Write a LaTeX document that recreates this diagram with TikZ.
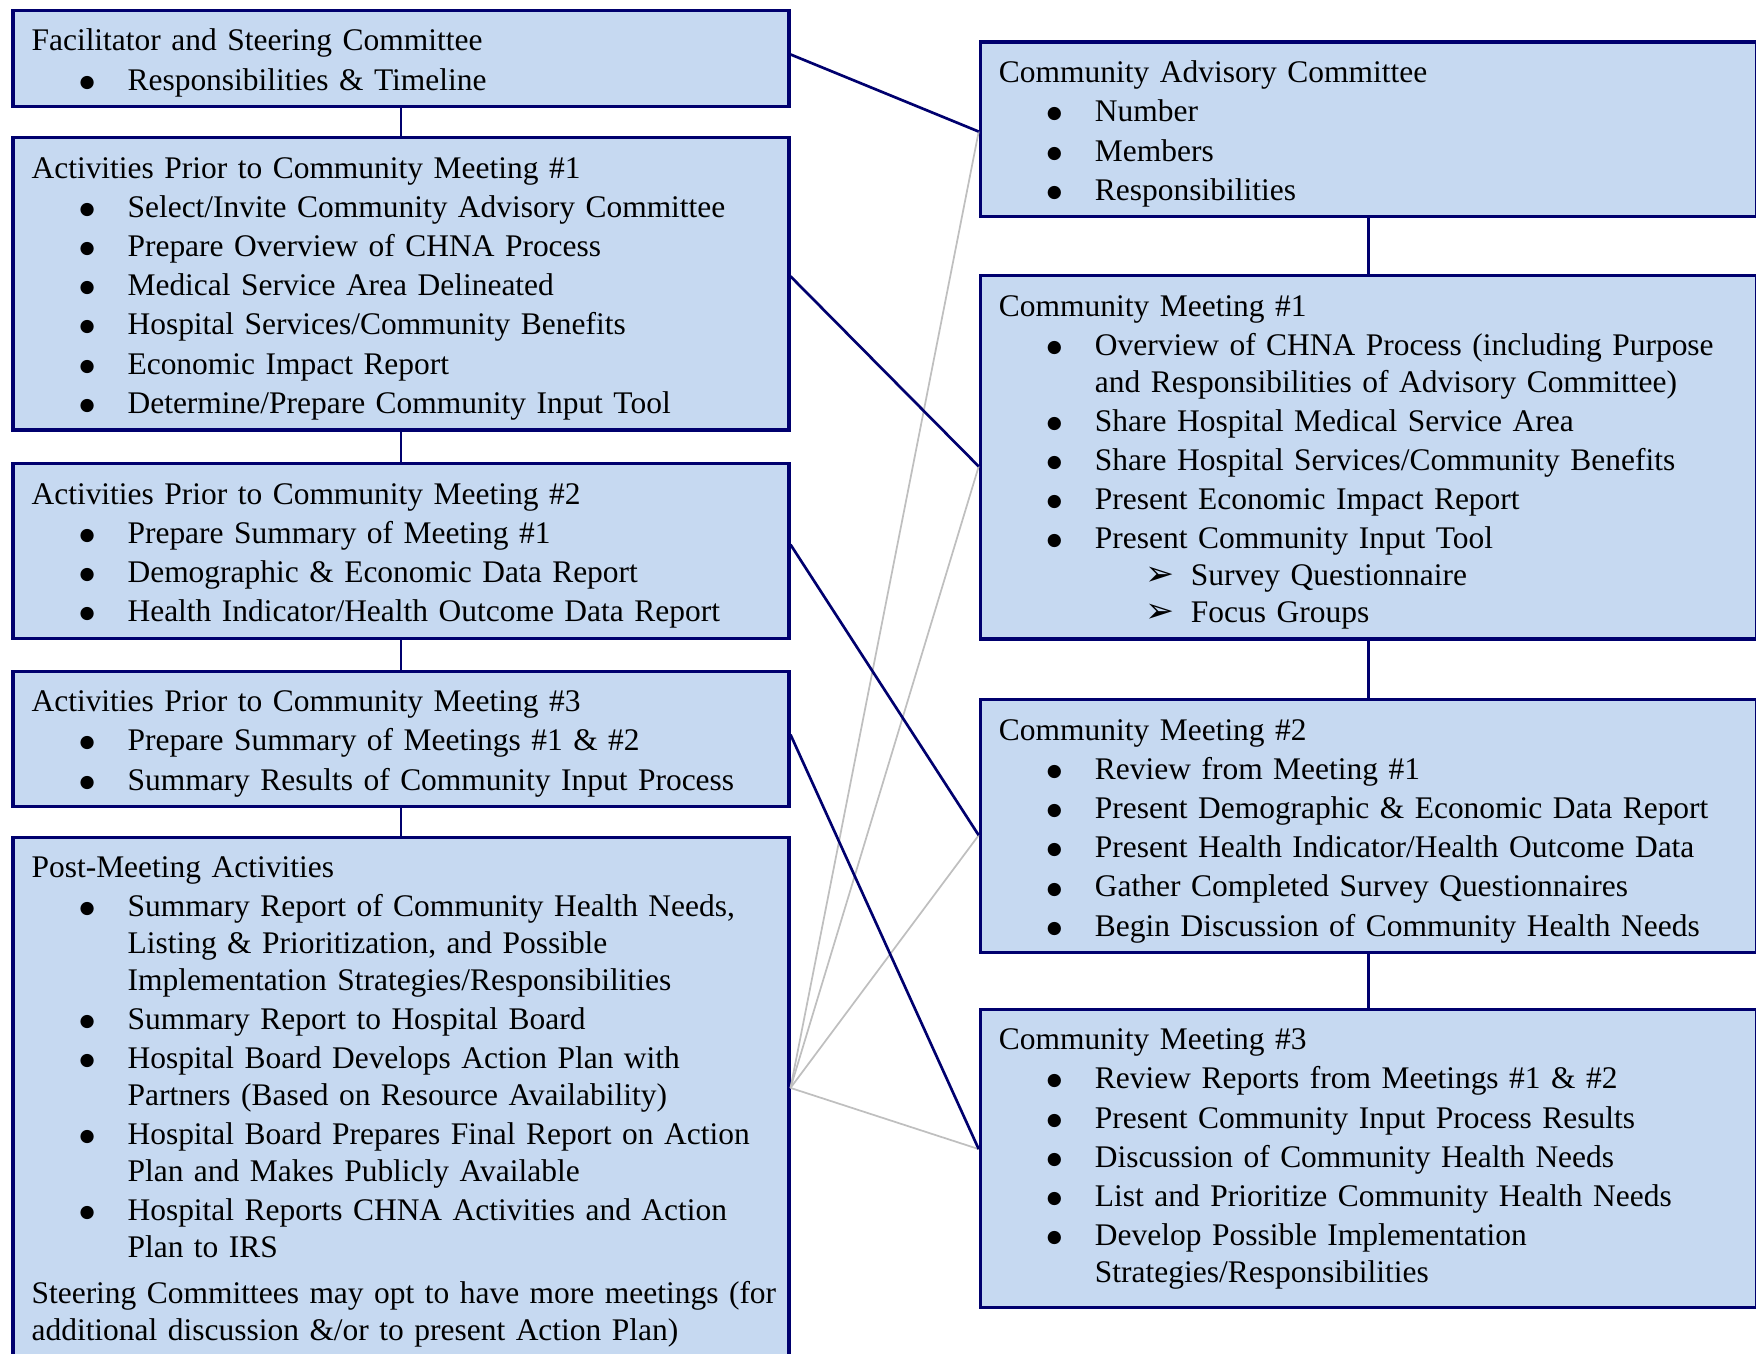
\documentclass[tikz,border=0pt]{standalone}
\usepackage{fontspec}
\setmainfont{Liberation Serif}
\newfontfamily\dejavu{DejaVu Sans}
\usepackage{enumitem}

\definecolor{boxfill}{RGB}{198,217,241}
\definecolor{boxline}{RGB}{0,0,110}
\definecolor{faint}{RGB}{191,191,191}

\newcommand{\bigbullet}{\raisebox{1.1pt}{\dejavu\fontsize{6.5}{6.5}\selectfont ●}}
\setlist[itemize,1]{label=\bigbullet,nosep,topsep=0.9pt,itemsep=0.9pt,
  leftmargin=36pt,labelwidth=18pt,labelsep=0pt,align=left}
\setlist[itemize,2]{label={\dejavu\fontsize{13}{13}\selectfont ➢},nosep,
  leftmargin=36pt,labelwidth=17pt,labelsep=0pt,align=left}

\tikzset{
  stage/.style={rectangle,draw=boxline,fill=boxfill,line width=1.2pt,
    anchor=north west,text width=277pt,inner xsep=7pt,inner ysep=3.7pt,
    align=left,font=\fontsize{11.8}{13.8}\selectfont,
    execute at begin node={\rule{0pt}{11.5pt}}},
  link/.style={draw=boxline,line width=1pt},
  crosslink/.style={draw=faint,line width=0.65pt}
}

\begin{document}
\begin{tikzpicture}[x=0.375pt,y=-0.375pt]
\useasboundingbox (0,0) rectangle (1756,1354);

% left column: steering committee work
\node[stage] (l1) at (11.3,8.7) {Facilitator and Steering Committee
\begin{itemize}
\item Responsibilities \& Timeline
\end{itemize}};
\node[stage] (l2) at (11.3,136) {Activities Prior to Community Meeting \#1
\begin{itemize}
\item Select/Invite Community Advisory Committee
\item Prepare Overview of CHNA Process
\item Medical Service Area Delineated
\item Hospital Services/Community Benefits
\item Economic Impact Report
\item Determine/Prepare Community Input Tool
\end{itemize}};
\node[stage] (l3) at (11.3,462) {Activities Prior to Community Meeting \#2
\begin{itemize}
\item Prepare Summary of Meeting \#1
\item Demographic \& Economic Data Report
\item Health Indicator/Health Outcome Data Report
\end{itemize}};
\node[stage] (l4) at (11.3,669.5) {Activities Prior to Community Meeting \#3
\begin{itemize}
\item Prepare Summary of Meetings \#1 \& \#2
\item Summary Results of Community Input Process
\end{itemize}};
\node[stage] (l5) at (11.3,835.5) {Post-Meeting Activities
\begin{itemize}
\item Summary Report of Community Health Needs,\newline Listing \& Prioritization, and Possible\newline Implementation Strategies/Responsibilities
\item Summary Report to Hospital Board
\item Hospital Board Develops Action Plan with\newline Partners (Based on Resource Availability)
\item Hospital Board Prepares Final Report on Action\newline Plan and Makes Publicly Available
\item Hospital Reports CHNA Activities and Action\newline Plan to IRS
\end{itemize}
\vspace{2.5pt}
\mbox{Steering Committees may opt to have more meetings (for}\newline additional discussion \&/or to present Action Plan)};

% right column: advisory committee meetings
\node[stage] (r1) at (978.7,40.5) {Community Advisory Committee
\begin{itemize}
\item Number
\item Members
\item Responsibilities
\end{itemize}};
\node[stage] (r2) at (978.7,274) {Community Meeting \#1
\begin{itemize}
\item Overview of CHNA Process (including Purpose\newline and Responsibilities of Advisory Committee)
\item Share Hospital Medical Service Area
\item Share Hospital Services/Community Benefits
\item Present Economic Impact Report
\item Present Community Input Tool
  \begin{itemize}
  \item Survey Questionnaire
  \item Focus Groups
  \end{itemize}
\end{itemize}};
\node[stage] (r3) at (978.7,698) {Community Meeting \#2
\begin{itemize}
\item Review from Meeting \#1
\item Present Demographic \& Economic Data Report
\item Present Health Indicator/Health Outcome Data
\item Gather Completed Survey Questionnaires
\item Begin Discussion of Community Health Needs
\end{itemize}};
\node[stage] (r4) at (978.7,1007.5) {Community Meeting \#3
\begin{itemize}
\item Review Reports from Meetings \#1 \& \#2
\item Present Community Input Process Results
\item Discussion of Community Health Needs
\item List and Prioritize Community Health Needs
\item Develop Possible Implementation\newline Strategies/Responsibilities\rule[-5.8pt]{0pt}{1pt}
\end{itemize}};

% connectors
\foreach \t/\s in {r1/-0.8pt,r2/-3.4pt,r3/-3.4pt,r4/3.5pt}
  \draw[crosslink] ([yshift=3.4pt]l5.east) -- ([yshift=\s]\t.west);
\draw[link] (l1) -- (l2) (l2) -- (l3) (l3) -- (l4) (l4) -- (l5);
\draw[link] (r1) -- (r2) (r2) -- (r3) (r3) -- (r4);
\draw[link] ([yshift=1.5pt]l1.east) -- ([yshift=-0.8pt]r1.west);
\draw[link] ([yshift=2.8pt]l2.east) -- ([yshift=-3.4pt]r2.west);
\draw[link] ([yshift=2.4pt]l3.east) -- ([yshift=-3.4pt]r3.west);
\draw[link] ([yshift=1.6pt]l4.east) -- ([yshift=3.5pt]r4.west);
\end{tikzpicture}
\end{document}
